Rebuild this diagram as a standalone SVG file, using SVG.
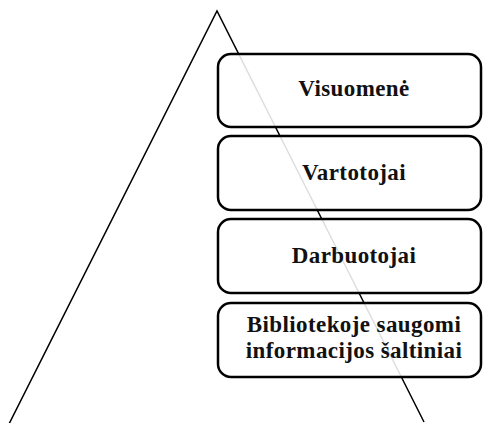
<svg xmlns="http://www.w3.org/2000/svg" width="483" height="423" viewBox="0 0 483 423">
<style>
.box{fill:#fff;fill-opacity:0.87;stroke:#000;stroke-width:2.5}
.t{font-family:"Liberation Serif","Times New Roman",serif;font-weight:bold;font-size:23px;letter-spacing:0.4px;fill:#111;text-anchor:middle}
.edge{fill:none;stroke:#000;stroke-width:1.5}
</style>
<rect width="483" height="423" fill="#fff"/>
<g id="connectors">
<polyline class="edge" points="9,424 217,11 424,422"/>
</g>
<g id="n1"><rect class="box" x="218" y="54" width="263" height="73" rx="13"/><text class="t" x="354" y="96">Visuomenė</text></g>
<g id="n2"><rect class="box" x="218" y="136" width="263" height="74" rx="13"/><text class="t" x="354" y="180">Vartotojai</text></g>
<g id="n3"><rect class="box" x="218" y="219" width="263" height="74" rx="13"/><text class="t" x="354" y="263">Darbuotojai</text></g>
<g id="n4"><rect class="box" x="218" y="303" width="263" height="74" rx="13"/><text class="t" x="354" y="332">Bibliotekoje saugomi</text><text class="t" x="354" y="358">informacijos šaltiniai</text></g>
</svg>
